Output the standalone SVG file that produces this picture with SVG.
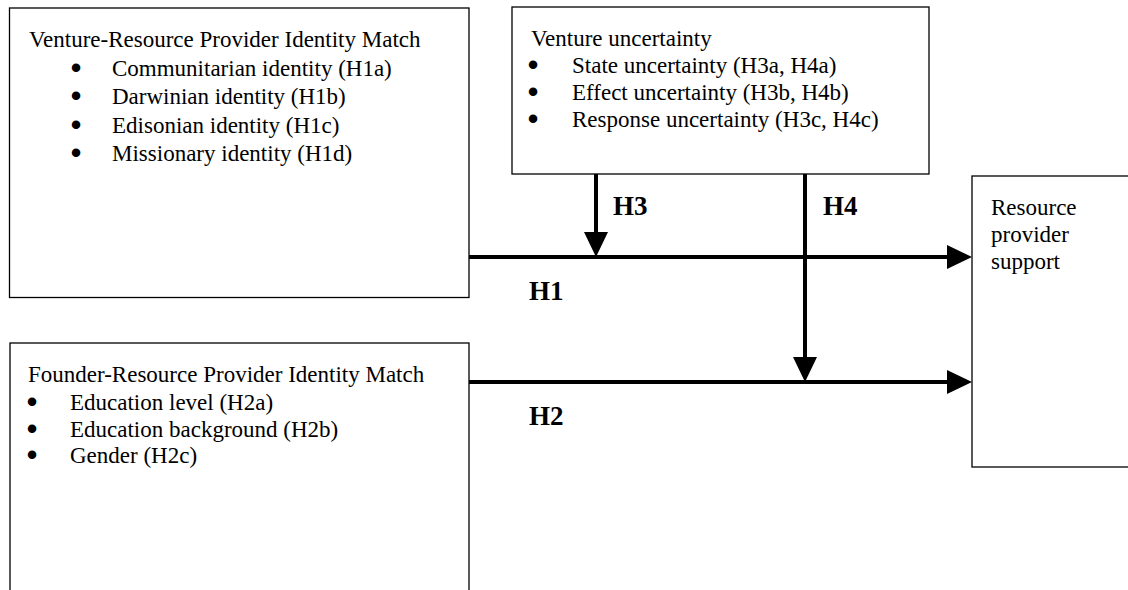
<svg xmlns="http://www.w3.org/2000/svg" width="1128" height="590" viewBox="0 0 1128 590">
<style>
.box{fill:#fff;stroke:#000;stroke-width:1.3}
.t{font-family:"Liberation Serif","Times New Roman",serif;font-size:23px;fill:#000}
.bul{stroke:#000;stroke-width:3;stroke-linejoin:round}
.lbl{font-family:"Liberation Serif","Times New Roman",serif;font-size:27px;font-weight:bold;fill:#000}
.conn{stroke:#000;stroke-width:4;fill:none}
</style>
<defs>
<marker id="ah" markerUnits="userSpaceOnUse" markerWidth="26" markerHeight="24" refX="0" refY="12" orient="auto" viewBox="0 0 26 24">
<path d="M0,0 L25,12 L0,24 Z" fill="#000"/>
</marker>
</defs>
<g id="venture-identity">
<rect class="box" x="9.5" y="8" width="459.5" height="289.5"/>
<text class="t" x="29" y="47">Venture-Resource Provider Identity Match</text>
<text class="t" y="76"><tspan class="bul" x="72">•</tspan><tspan x="112">Communitarian identity (H1a)</tspan></text>
<text class="t" y="104"><tspan class="bul" x="72">•</tspan><tspan x="112">Darwinian identity (H1b)</tspan></text>
<text class="t" y="132.5"><tspan class="bul" x="72">•</tspan><tspan x="112">Edisonian identity (H1c)</tspan></text>
<text class="t" y="161"><tspan class="bul" x="72">•</tspan><tspan x="112">Missionary identity (H1d)</tspan></text>
</g>
<g id="venture-uncertainty">
<rect class="box" x="512" y="7" width="417" height="167"/>
<text class="t" x="531" y="46">Venture uncertainty</text>
<text class="t" y="73"><tspan class="bul" x="529">•</tspan><tspan x="572">State uncertainty (H3a, H4a)</tspan></text>
<text class="t" y="100"><tspan class="bul" x="529">•</tspan><tspan x="572">Effect uncertainty (H3b, H4b)</tspan></text>
<text class="t" y="127"><tspan class="bul" x="529">•</tspan><tspan x="572">Response uncertainty (H3c, H4c)</tspan></text>
</g>
<g id="founder-identity">
<rect class="box" x="10" y="343" width="459" height="260"/>
<text class="t" x="28" y="382">Founder-Resource Provider Identity Match</text>
<text class="t" y="410"><tspan class="bul" x="28">•</tspan><tspan x="70">Education level (H2a)</tspan></text>
<text class="t" y="437"><tspan class="bul" x="28">•</tspan><tspan x="70">Education background (H2b)</tspan></text>
<text class="t" y="463"><tspan class="bul" x="28">•</tspan><tspan x="70">Gender (H2c)</tspan></text>
</g>
<g id="resource-support">
<rect class="box" x="972" y="176" width="170" height="291"/>
<text class="t" x="991" y="215">Resource</text>
<text class="t" x="991" y="242">provider</text>
<text class="t" x="991" y="269">support</text>
</g>
<g id="connectors">
<line class="conn" x1="469" y1="257" x2="947" y2="257" marker-end="url(#ah)"/>
<line class="conn" x1="469" y1="382" x2="947" y2="382" marker-end="url(#ah)"/>
<line class="conn" x1="596" y1="174" x2="596" y2="232" marker-end="url(#ah)"/>
<line class="conn" x1="805" y1="174" x2="805" y2="357" marker-end="url(#ah)"/>
<text class="lbl" x="613" y="215">H3</text>
<text class="lbl" x="823" y="215">H4</text>
<text class="lbl" x="529" y="300">H1</text>
<text class="lbl" x="529" y="425">H2</text>
</g>
</svg>
